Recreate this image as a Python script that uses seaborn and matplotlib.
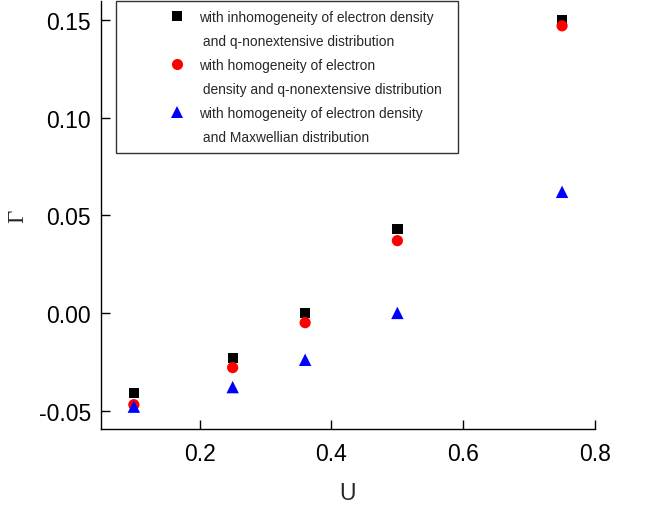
import matplotlib
matplotlib.use("Agg")
import matplotlib.pyplot as plt
import numpy as np
import pandas as pd
import seaborn as sns
from matplotlib.lines import Line2D
from matplotlib.legend_handler import HandlerLine2D

# data
u_values = [0.10, 0.25, 0.36, 0.50, 0.75]
gamma_inhomog_q = [-0.041, -0.023, 0.000, 0.043, 0.150]
gamma_homog_q = [-0.047, -0.028, -0.005, 0.037, 0.147]
gamma_homog_maxw = [-0.048, -0.038, -0.024, 0.000, 0.062]

series_names = ["inhomog_q", "homog_q", "homog_maxw"]
legend_lines = [
    ("with inhomogeneity of electron density", " and q-nonextensive distribution"),
    ("with homogeneity of electron", " density and q-nonextensive distribution  "),
    ("with homogeneity of electron density", " and Maxwellian distribution"),
]
colors = ["black", "red", "blue"]
markers = ["s", "o", "^"]
sizes = [55, 65, 80]
leg_msizes = [6.5, 8, 8.5]

df = pd.DataFrame({
    "U": u_values * 3,
    "Gamma": gamma_inhomog_q + gamma_homog_q + gamma_homog_maxw,
    "series": np.repeat(series_names, len(u_values)),
})


class RightMarker(HandlerLine2D):
    # put the legend marker near the right end of the handle box
    def get_xdata(self, legend, xdescent, ydescent, width, height, fontsize):
        x = -xdescent + width - 2
        return np.array([x]), np.array([x])


sns.set_style("ticks")
plt.rcParams["font.family"] = ["Liberation Sans", "DejaVu Sans"]

fig = plt.figure(figsize=(6.51, 5.06), dpi=100)
ax = fig.add_axes([0.155, 0.150, 0.759, 0.846])

for name, c, m, s in zip(series_names, colors, markers, sizes):
    sns.scatterplot(data=df[df["series"] == name], x="U", y="Gamma", color=c,
                    marker=m, s=s, edgecolor="none", ax=ax, legend=False, zorder=3)

ax.set_xlim(0.05, 0.8)
ax.set_ylim(-0.0595, 0.1597)
ax.set_xticks([0.2, 0.4, 0.6, 0.8])
ax.set_yticks([-0.05, 0.0, 0.05, 0.10, 0.15])
ax.set_yticklabels(["-0.05", "0.00", "0.05", "0.10", "0.15"])
ax.tick_params(direction="in", length=6.5, width=1, labelsize=16.5, pad=7, colors="black")
ax.tick_params(axis="x", pad=9)
for side in ["top", "right"]:
    ax.spines[side].set_visible(False)
for side in ["left", "bottom"]:
    ax.spines[side].set_linewidth(1)
    ax.spines[side].set_color("black")

ax.set_xlabel("U", fontsize=16.5, labelpad=12)
ax.set_ylabel("Γ", fontsize=16.5, family=["Liberation Serif", "DejaVu Serif"], labelpad=8)

# legend: marker on first line, continuation line without marker
handles, labels = [], []
for (l1, l2), c, m, ms in zip(legend_lines, colors, markers, leg_msizes):
    handles.append(Line2D([0], [0], linestyle="none", marker=m, color=c,
                          markersize=ms, markeredgewidth=0))
    labels.append(l1)
    handles.append(Line2D([0], [0], linestyle="none", marker=""))
    labels.append(l2)
leg = ax.legend(handles, labels, loc="upper left", bbox_to_anchor=(0.03, 1.0),
                fontsize=9.9, frameon=True, fancybox=False, framealpha=1,
                edgecolor="#333333", labelspacing=0.72, handletextpad=1.38,
                borderpad=0.66, handlelength=4.0, borderaxespad=0,
                handler_map={Line2D: RightMarker(numpoints=1)})
leg.get_frame().set_linewidth(1)

fig.savefig("out.png", dpi=100)
